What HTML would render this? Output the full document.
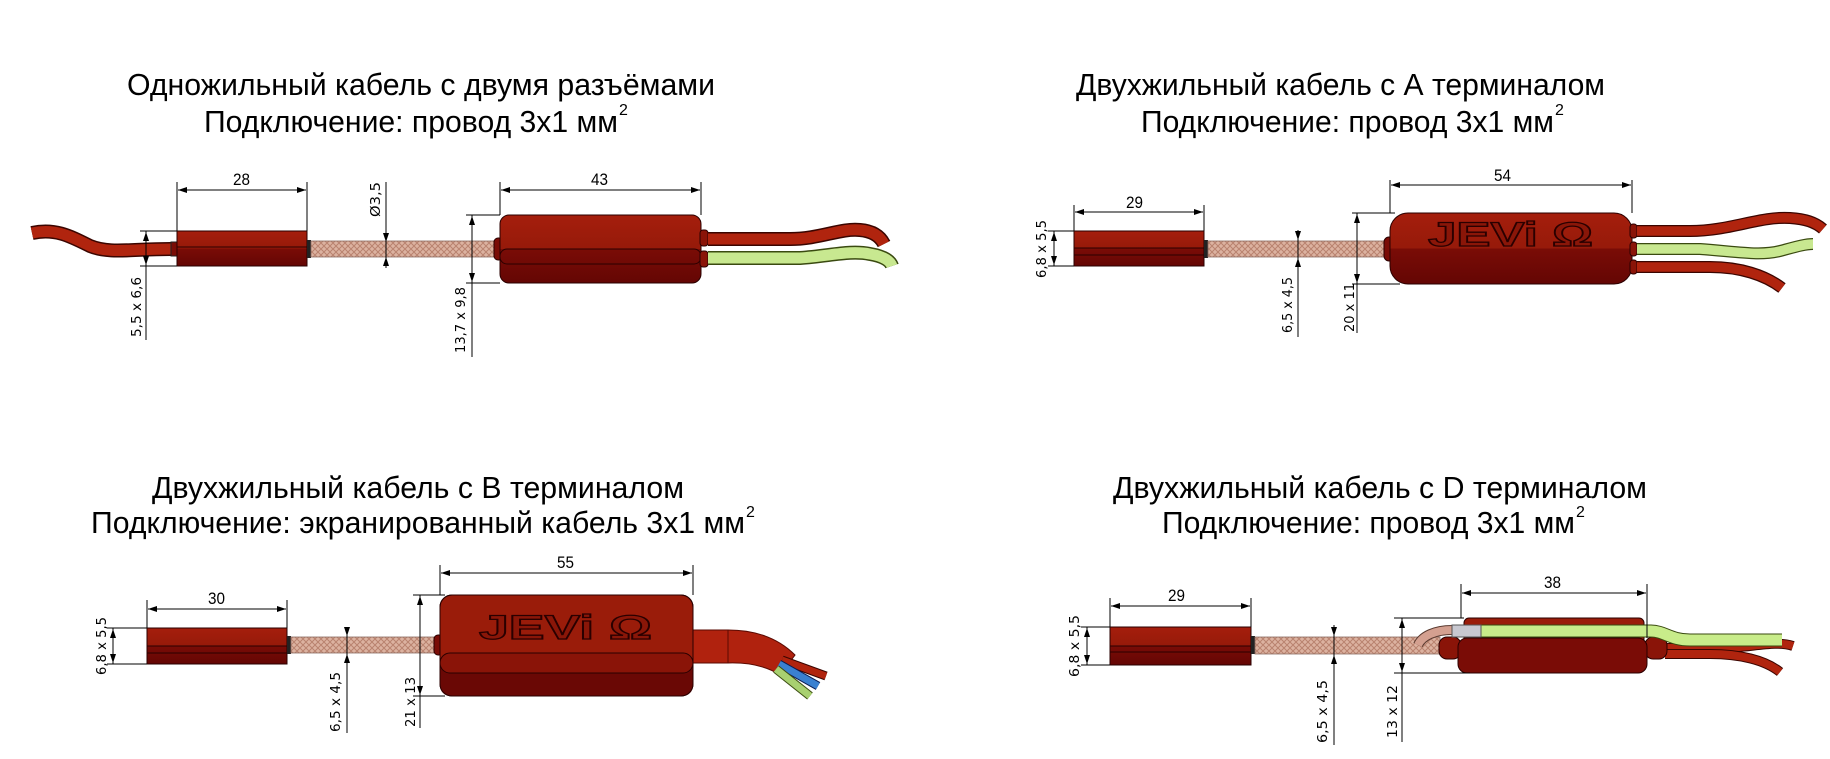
<!DOCTYPE html>
<html><head><meta charset="utf-8"><style>
html,body{margin:0;padding:0;background:#fff;}
svg{display:block;}
.t{font-family:"Liberation Sans",sans-serif;font-size:31px;fill:#000;}
.s{font-family:"Liberation Sans",sans-serif;font-size:16px;fill:#000;}
.d{font-family:"Liberation Sans",sans-serif;font-size:17px;fill:#000;}
.r{font-family:"DejaVu Sans","Liberation Sans",sans-serif;font-size:13px;fill:#000;}
.dl{stroke:#000;stroke-width:1;fill:none;}
.lg{font-family:"Liberation Sans",sans-serif;font-weight:bold;font-size:34px;fill:#8a1608;stroke:#2a0000;stroke-width:1.3;}
</style></head><body>
<svg width="1830" height="759" viewBox="0 0 1830 759" xmlns="http://www.w3.org/2000/svg">
<defs>
<marker id="a" markerUnits="userSpaceOnUse" markerWidth="9" markerHeight="6" refX="9" refY="3" orient="auto-start-reverse"><path d="M0,0 L9,3 L0,6 z" fill="#000"/></marker>
<pattern id="br" width="6" height="6" patternUnits="userSpaceOnUse"><rect width="6" height="6" fill="#dcb2a0"/><path d="M0,6 L6,0 M0,0 L6,6" stroke="#b9826f" stroke-width="1"/></pattern>
<linearGradient id="bx" x1="0" y1="0" x2="0" y2="1"><stop offset="0" stop-color="#a51e0c"/><stop offset="0.5" stop-color="#961a0a"/><stop offset="0.5" stop-color="#7a0c06"/><stop offset="1" stop-color="#640604"/></linearGradient>
</defs>

<!-- ============ PANEL 1 ============ -->
<text class="t" x="127" y="95" textLength="588" lengthAdjust="spacingAndGlyphs">Одножильный кабель с двумя разъёмами</text>
<text class="t" x="204" y="132" textLength="414" lengthAdjust="spacingAndGlyphs">Подключение: провод 3x1 мм</text>
<text class="s" x="619" y="115">2</text>
<path d="M32,233 C55,228 70,236 90,246 C110,254 130,249 171,249" stroke="#3a0500" stroke-width="14" fill="none"/>
<path d="M32,233 C55,228 70,236 90,246 C110,254 130,249 171,249" stroke="#b0240e" stroke-width="11" fill="none"/>
<rect x="171" y="242" width="7" height="14" fill="#7a0c06" stroke="#222"/>
<rect x="177" y="231" width="130" height="35" fill="url(#bx)" stroke="#2a0000"/>
<line x1="177" y1="247" x2="307" y2="247" stroke="#2a0000"/>
<rect x="307" y="240" width="4" height="18" fill="#222"/>
<rect x="311" y="241" width="189" height="16" fill="url(#br)" stroke="#8a6a60" stroke-width="0.8"/>
<rect x="494" y="238" width="9" height="22" rx="4" fill="#7a0c06" stroke="#2a0000"/>
<rect x="500" y="215" width="201" height="68" rx="9" fill="url(#bx)" stroke="#2a0000"/>
<rect x="500" y="249" width="201" height="15" rx="7" fill="none" stroke="#2a0000"/>
<rect x="700" y="230" width="8" height="16" rx="3" fill="#8a1408" stroke="#2a0000"/>
<rect x="700" y="251" width="8" height="16" rx="3" fill="#8a1408" stroke="#2a0000"/>
<path d="M708,239 L790,239 C820,239 840,228 860,230 C872,231 880,236 884,244" stroke="#3a0500" stroke-width="14" fill="none"/>
<path d="M708,239 L790,239 C820,239 840,228 860,230 C872,231 880,236 884,244" stroke="#b0240e" stroke-width="11" fill="none"/>
<path d="M708,258 L800,258 C830,256 850,250 870,254 C882,256 890,260 892,266" stroke="#3a4a10" stroke-width="14" fill="none"/>
<path d="M708,258 L800,258 C830,256 850,250 870,254 C882,256 890,260 892,266" stroke="#c8e890" stroke-width="11" fill="none"/>
<path class="dl" d="M177,182 V231 M307,182 V231"/>
<line class="dl" x1="242" y1="190" x2="178" y2="190" marker-end="url(#a)"/>
<line class="dl" x1="242" y1="190" x2="306" y2="190" marker-end="url(#a)"/>
<text class="d" x="233" y="185" textLength="17" lengthAdjust="spacingAndGlyphs">28</text>
<path class="dl" d="M500,182 V215 M701,182 V215"/>
<line class="dl" x1="600" y1="190" x2="501" y2="190" marker-end="url(#a)"/>
<line class="dl" x1="600" y1="190" x2="700" y2="190" marker-end="url(#a)"/>
<text class="d" x="591" y="185" textLength="17" lengthAdjust="spacingAndGlyphs">43</text>
<path class="dl" d="M140,231 H177 M140,266 H177 M146,231 V340"/>
<line class="dl" x1="146" y1="248" x2="146" y2="232" marker-end="url(#a)"/>
<line class="dl" x1="146" y1="248" x2="146" y2="265" marker-end="url(#a)"/>
<text class="r" transform="translate(141,337) rotate(-90)" textLength="60" lengthAdjust="spacingAndGlyphs">5,5 x 6,6</text>
<line class="dl" x1="386" y1="182" x2="386" y2="268"/>
<line class="dl" x1="386" y1="230" x2="386" y2="242" marker-end="url(#a)"/>
<line class="dl" x1="386" y1="268" x2="386" y2="257" marker-end="url(#a)"/>
<text class="r" transform="translate(380,217) rotate(-90)" textLength="35" lengthAdjust="spacingAndGlyphs">Ø3,5</text>
<path class="dl" d="M466,215 H500 M466,283 H500 M472,215 V357"/>
<line class="dl" x1="472" y1="250" x2="472" y2="216" marker-end="url(#a)"/>
<line class="dl" x1="472" y1="250" x2="472" y2="282" marker-end="url(#a)"/>
<text class="r" transform="translate(465,353) rotate(-90)" textLength="66" lengthAdjust="spacingAndGlyphs">13,7 x 9,8</text>

<!-- ============ PANEL 2 ============ -->
<text class="t" x="1076" y="95" textLength="529" lengthAdjust="spacingAndGlyphs">Двухжильный кабель с А терминалом</text>
<text class="t" x="1141" y="132" textLength="413" lengthAdjust="spacingAndGlyphs">Подключение: провод 3x1 мм</text>
<text class="s" x="1555" y="115">2</text>
<rect x="1074" y="231" width="130" height="35" fill="url(#bx)" stroke="#2a0000"/>
<line x1="1074" y1="248" x2="1204" y2="248" stroke="#2a0000"/>
<line x1="1074" y1="255" x2="1204" y2="255" stroke="#2a0000"/>
<rect x="1204" y="240" width="4" height="18" fill="#222"/>
<rect x="1208" y="241" width="182" height="16" fill="url(#br)" stroke="#8a6a60" stroke-width="0.8"/>
<rect x="1384" y="237" width="10" height="24" rx="5" fill="#7a0c06" stroke="#2a0000"/>
<rect x="1390" y="213" width="242" height="71" rx="18" fill="url(#bx)" stroke="#2a0000"/>
<text class="lg" x="1428" y="246" textLength="165" lengthAdjust="spacingAndGlyphs">JEVi Ω</text>
<rect x="1630" y="224" width="7" height="14" rx="3" fill="#8a1408" stroke="#2a0000"/>
<rect x="1630" y="242" width="7" height="14" rx="3" fill="#8a1408" stroke="#2a0000"/>
<rect x="1630" y="260" width="7" height="14" rx="3" fill="#8a1408" stroke="#2a0000"/>
<path d="M1637,231 L1690,231 C1730,231 1760,216 1790,218 C1805,219 1815,222 1823,229" stroke="#3a0500" stroke-width="12" fill="none"/>
<path d="M1637,231 L1690,231 C1730,231 1760,216 1790,218 C1805,219 1815,222 1823,229" stroke="#b0240e" stroke-width="9.5" fill="none"/>
<path d="M1637,249 L1700,249 C1740,252 1760,256 1780,251 C1795,247 1805,244 1813,244" stroke="#3a4a10" stroke-width="12" fill="none"/>
<path d="M1637,249 L1700,249 C1740,252 1760,256 1780,251 C1795,247 1805,244 1813,244" stroke="#c8e890" stroke-width="9.5" fill="none"/>
<path d="M1637,267 L1710,267 C1740,267 1765,275 1782,288" stroke="#3a0500" stroke-width="12" fill="none"/>
<path d="M1637,267 L1710,267 C1740,267 1765,275 1782,288" stroke="#b0240e" stroke-width="9.5" fill="none"/>
<path class="dl" d="M1074,205 V231 M1204,205 V231"/>
<line class="dl" x1="1139" y1="212" x2="1075" y2="212" marker-end="url(#a)"/>
<line class="dl" x1="1139" y1="212" x2="1203" y2="212" marker-end="url(#a)"/>
<text class="d" x="1126" y="208" textLength="17" lengthAdjust="spacingAndGlyphs">29</text>
<path class="dl" d="M1390,180 V213 M1632,180 V213"/>
<line class="dl" x1="1511" y1="185" x2="1391" y2="185" marker-end="url(#a)"/>
<line class="dl" x1="1511" y1="185" x2="1631" y2="185" marker-end="url(#a)"/>
<text class="d" x="1494" y="181" textLength="17" lengthAdjust="spacingAndGlyphs">54</text>
<path class="dl" d="M1048,231 H1074 M1048,266 H1074 M1054,231 V266"/>
<line class="dl" x1="1054" y1="248" x2="1054" y2="232" marker-end="url(#a)"/>
<line class="dl" x1="1054" y1="248" x2="1054" y2="265" marker-end="url(#a)"/>
<text class="r" transform="translate(1046,278) rotate(-90)" textLength="58" lengthAdjust="spacingAndGlyphs">6,8 x 5,5</text>
<line class="dl" x1="1298" y1="230" x2="1298" y2="337"/>
<line class="dl" x1="1298" y1="230" x2="1298" y2="240" marker-end="url(#a)"/>
<line class="dl" x1="1298" y1="268" x2="1298" y2="258" marker-end="url(#a)"/>
<text class="r" transform="translate(1292,333) rotate(-90)" textLength="56" lengthAdjust="spacingAndGlyphs">6,5 x 4,5</text>
<path class="dl" d="M1352,213 H1395 M1352,284 H1400 M1357,213 V333"/>
<line class="dl" x1="1357" y1="248" x2="1357" y2="214" marker-end="url(#a)"/>
<line class="dl" x1="1357" y1="248" x2="1357" y2="283" marker-end="url(#a)"/>
<text class="r" transform="translate(1354,332) rotate(-90)" textLength="49" lengthAdjust="spacingAndGlyphs">20 x 11</text>

<!-- ============ PANEL 3 ============ -->
<text class="t" x="152" y="498" textLength="532" lengthAdjust="spacingAndGlyphs">Двухжильный кабель с B терминалом</text>
<text class="t" x="91" y="533" textLength="654" lengthAdjust="spacingAndGlyphs">Подключение: экранированный кабель 3x1 мм</text>
<text class="s" x="746" y="517">2</text>
<rect x="147" y="628" width="140" height="36" fill="url(#bx)" stroke="#2a0000"/>
<line x1="147" y1="646" x2="287" y2="646" stroke="#2a0000"/>
<line x1="147" y1="653" x2="287" y2="653" stroke="#2a0000"/>
<rect x="287" y="636" width="4" height="18" fill="#222"/>
<rect x="291" y="637" width="149" height="16" fill="url(#br)" stroke="#8a6a60" stroke-width="0.8"/>
<rect x="434" y="635" width="9" height="20" rx="4" fill="#7a0c06" stroke="#2a0000"/>
<path d="M690,630 L728,630 Q770,630 795,655 L780,675 Q760,662 728,663 L690,663 Z" fill="#b0220e" stroke="#5a0a02"/>
<line x1="728" y1="630" x2="728" y2="663" stroke="#5a0a02"/>
<line x1="782" y1="660" x2="826" y2="676" stroke="#3a0500" stroke-width="9"/>
<line x1="782" y1="660" x2="826" y2="676" stroke="#b0240e" stroke-width="7"/>
<line x1="779" y1="664" x2="818" y2="686" stroke="#0a1a50" stroke-width="9"/>
<line x1="779" y1="664" x2="818" y2="686" stroke="#3a80d0" stroke-width="7"/>
<line x1="776" y1="669" x2="810" y2="696" stroke="#3a4a10" stroke-width="9"/>
<line x1="776" y1="669" x2="810" y2="696" stroke="#a8d070" stroke-width="7"/>
<rect x="440" y="595" width="253" height="101" rx="12" fill="#9a1c0a" stroke="#2a0000"/>
<path d="M440,663 H693 V684 Q693,696 681,696 H452 Q440,696 440,684 Z" fill="#6a0805"/>
<rect x="440" y="653" width="253" height="20" rx="10" fill="#8a1408" stroke="#2a0000"/>
<rect x="440" y="595" width="253" height="101" rx="12" fill="none" stroke="#2a0000"/>
<text class="lg" x="479" y="639" textLength="173" lengthAdjust="spacingAndGlyphs">JEVi Ω</text>
<path class="dl" d="M147,600 V628 M287,600 V628"/>
<line class="dl" x1="217" y1="609" x2="148" y2="609" marker-end="url(#a)"/>
<line class="dl" x1="217" y1="609" x2="286" y2="609" marker-end="url(#a)"/>
<text class="d" x="208" y="604" textLength="17" lengthAdjust="spacingAndGlyphs">30</text>
<path class="dl" d="M440,565 V595 M693,565 V595"/>
<line class="dl" x1="566" y1="573" x2="441" y2="573" marker-end="url(#a)"/>
<line class="dl" x1="566" y1="573" x2="692" y2="573" marker-end="url(#a)"/>
<text class="d" x="557" y="568" textLength="17" lengthAdjust="spacingAndGlyphs">55</text>
<path class="dl" d="M107,628 H147 M107,664 H147 M113,628 V664"/>
<line class="dl" x1="113" y1="646" x2="113" y2="629" marker-end="url(#a)"/>
<line class="dl" x1="113" y1="646" x2="113" y2="663" marker-end="url(#a)"/>
<text class="r" transform="translate(106,675) rotate(-90)" textLength="58" lengthAdjust="spacingAndGlyphs">6,8 x 5,5</text>
<line class="dl" x1="347" y1="627" x2="347" y2="733"/>
<line class="dl" x1="347" y1="627" x2="347" y2="636" marker-end="url(#a)"/>
<line class="dl" x1="347" y1="664" x2="347" y2="654" marker-end="url(#a)"/>
<text class="r" transform="translate(340,732) rotate(-90)" textLength="60" lengthAdjust="spacingAndGlyphs">6,5 x 4,5</text>
<path class="dl" d="M413,595 H445 M413,696 H445 M420,595 V728"/>
<line class="dl" x1="420" y1="645" x2="420" y2="596" marker-end="url(#a)"/>
<line class="dl" x1="420" y1="645" x2="420" y2="695" marker-end="url(#a)"/>
<text class="r" transform="translate(415,727) rotate(-90)" textLength="50" lengthAdjust="spacingAndGlyphs">21 x 13</text>

<!-- ============ PANEL 4 ============ -->
<text class="t" x="1113" y="498" textLength="534" lengthAdjust="spacingAndGlyphs">Двухжильный кабель с D терминалом</text>
<text class="t" x="1162" y="533" textLength="413" lengthAdjust="spacingAndGlyphs">Подключение: провод 3x1 мм</text>
<text class="s" x="1576" y="517">2</text>
<rect x="1110" y="627" width="141" height="38" fill="url(#bx)" stroke="#2a0000"/>
<line x1="1110" y1="646" x2="1251" y2="646" stroke="#2a0000"/>
<line x1="1110" y1="652" x2="1251" y2="652" stroke="#2a0000"/>
<rect x="1251" y="636" width="4" height="18" fill="#222"/>
<rect x="1255" y="637" width="185" height="17" fill="url(#br)" stroke="#8a6a60" stroke-width="0.8"/>
<path d="M1665,648 L1720,648 C1750,648 1775,640 1793,646" stroke="#3a0500" stroke-width="10" fill="none"/>
<path d="M1665,648 L1720,648 C1750,648 1775,640 1793,646" stroke="#b0240e" stroke-width="8" fill="none"/>
<path d="M1665,654 L1710,654 C1740,654 1765,660 1780,672" stroke="#3a0500" stroke-width="10" fill="none"/>
<path d="M1665,654 L1710,654 C1740,654 1765,660 1780,672" stroke="#b0240e" stroke-width="8" fill="none"/>
<rect x="1464" y="618" width="180" height="26" rx="5" fill="#9a1c0a" stroke="#2a0000"/>
<rect x="1439" y="637" width="22" height="22" rx="8" fill="#8a1408" stroke="#2a0000"/>
<rect x="1645" y="637" width="22" height="22" rx="8" fill="#8a1408" stroke="#2a0000"/>
<rect x="1458" y="638" width="189" height="35" rx="9" fill="#7a0c06" stroke="#2a0000"/>
<path d="M1418,645 C1422,636 1435,630 1452,630" stroke="#5a3a30" stroke-width="10" fill="none"/>
<path d="M1418,645 C1422,636 1435,630 1452,630" stroke="#d4a090" stroke-width="8" fill="none"/>
<path d="M1480,631 L1650,631 C1665,631 1670,640 1690,640 L1782,640" stroke="#3a4a10" stroke-width="13" fill="none"/>
<path d="M1480,631 L1650,631 C1665,631 1670,640 1690,640 L1782,640" stroke="#c8ec8a" stroke-width="11" fill="none"/>
<rect x="1452" y="625" width="29" height="12" fill="#c8c8d0" stroke="#555"/>
<path class="dl" d="M1110,598 V627 M1251,598 V627"/>
<line class="dl" x1="1180" y1="606" x2="1111" y2="606" marker-end="url(#a)"/>
<line class="dl" x1="1180" y1="606" x2="1250" y2="606" marker-end="url(#a)"/>
<text class="d" x="1168" y="601" textLength="17" lengthAdjust="spacingAndGlyphs">29</text>
<path class="dl" d="M1461,584 V618 M1647,584 V638"/>
<line class="dl" x1="1554" y1="593" x2="1462" y2="593" marker-end="url(#a)"/>
<line class="dl" x1="1554" y1="593" x2="1646" y2="593" marker-end="url(#a)"/>
<text class="d" x="1544" y="588" textLength="17" lengthAdjust="spacingAndGlyphs">38</text>
<path class="dl" d="M1081,627 H1110 M1081,665 H1110 M1087,627 V665"/>
<line class="dl" x1="1087" y1="646" x2="1087" y2="628" marker-end="url(#a)"/>
<line class="dl" x1="1087" y1="646" x2="1087" y2="664" marker-end="url(#a)"/>
<text class="r" transform="translate(1079,677) rotate(-90)" textLength="62" lengthAdjust="spacingAndGlyphs">6,8 x 5,5</text>
<line class="dl" x1="1334" y1="625" x2="1334" y2="745"/>
<line class="dl" x1="1334" y1="625" x2="1334" y2="636" marker-end="url(#a)"/>
<line class="dl" x1="1334" y1="665" x2="1334" y2="655" marker-end="url(#a)"/>
<text class="r" transform="translate(1327,743) rotate(-90)" textLength="63" lengthAdjust="spacingAndGlyphs">6,5 x 4,5</text>
<path class="dl" d="M1394,618 H1464 M1394,673 H1470 M1402,618 V742"/>
<line class="dl" x1="1402" y1="645" x2="1402" y2="619" marker-end="url(#a)"/>
<line class="dl" x1="1402" y1="645" x2="1402" y2="672" marker-end="url(#a)"/>
<text class="r" transform="translate(1397,738) rotate(-90)" textLength="53" lengthAdjust="spacingAndGlyphs">13 x 12</text>
</svg>
</body></html>
